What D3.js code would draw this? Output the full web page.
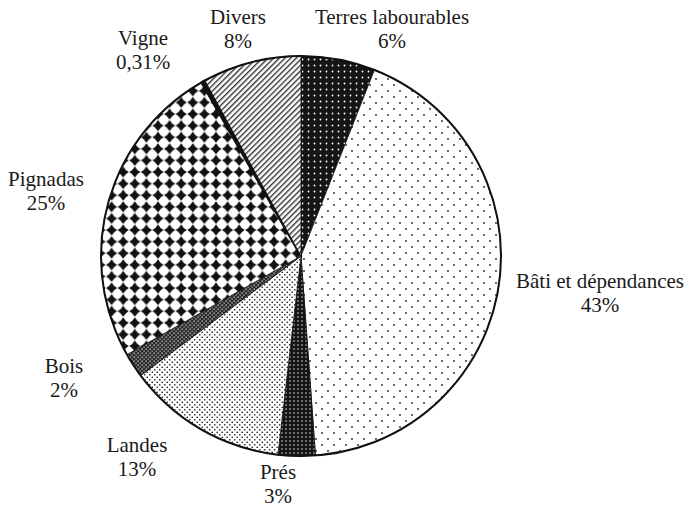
<!DOCTYPE html>
<html>
<head>
<meta charset="utf-8">
<script src="https://cdn.jsdelivr.net/npm/d3@7"></script>
<style>
  html, body { margin: 0; padding: 0; background: #fff; }
  svg { display: block; }
</style>
</head>
<body>
<div id="chart"></div>
<script>
// == DATA ==
const categories = ['Terres labourables', 'Bâti et dépendances', 'Prés', 'Landes', 'Bois', 'Pignadas', 'Vigne', 'Divers'];
const values = [6, 43, 3, 13, 2, 25, 0.31, 8];
const valueLabels = ['6%', '43%', '3%', '13%', '2%', '25%', '0,31%', '8%'];

// == LAYOUT ==
const W = 689, H = 508;
const CX = 301, CY = 256, R = 200;
const LINE = 24;
const FONT = 'Times New Roman, Liberation Serif, Times, serif';
// label anchor (centre x, first baseline y)
const labelPos = {
  'Terres labourables': [392, 24],
  'Bâti et dépendances': [600, 288],
  'Prés': [278, 479],
  'Landes': [137, 452],
  'Bois': [64, 373],
  'Pignadas': [46, 186],
  'Vigne': [143, 45],
  'Divers': [238, 24]
};

const svg = d3.select('#chart').append('svg')
  .attr('width', W)
  .attr('height', H);

const defs = svg.append('defs');

// dotted patterns: bg colour, dot colour, spacing, dot radius, staggered
function dotPattern(id, bg, fg, step, r, stagger) {
  const p = defs.append('pattern')
    .attr('id', id)
    .attr('patternUnits', 'userSpaceOnUse')
    .attr('width', step)
    .attr('height', step);
  p.append('rect').attr('width', step).attr('height', step).attr('fill', bg);
  p.append('circle').attr('cx', step / 4).attr('cy', step / 4).attr('r', r).attr('fill', fg);
  if (stagger) {
    p.append('circle').attr('cx', step * 3 / 4).attr('cy', step * 3 / 4).attr('r', r).attr('fill', fg);
  }
}

dotPattern('p-terres', '#151515', '#fff', 6, 0.9, false);
dotPattern('p-bati', '#fff', '#222', 12, 0.9, true);
dotPattern('p-pres', '#151515', '#fff', 4, 0.7, false);
dotPattern('p-landes', '#fff', '#222', 5, 0.85, true);

// Bois: fine dark check
const pb = defs.append('pattern').attr('id', 'p-bois')
  .attr('patternUnits', 'userSpaceOnUse').attr('width', 4).attr('height', 4);
pb.append('rect').attr('width', 4).attr('height', 4).attr('fill', '#2a2a2a');
pb.append('rect').attr('x', 0.5).attr('y', 0.5).attr('width', 1.2).attr('height', 1.2).attr('fill', '#fff');
pb.append('rect').attr('x', 2.5).attr('y', 2.5).attr('width', 1.2).attr('height', 1.2).attr('fill', '#ccc');

// Pignadas: black diamonds on white
const STEP_D = 11.6;
const pp = defs.append('pattern').attr('id', 'p-pign')
  .attr('patternUnits', 'userSpaceOnUse').attr('width', STEP_D).attr('height', STEP_D)
  .attr('x', 2).attr('y', 3);
pp.append('rect').attr('width', STEP_D).attr('height', STEP_D).attr('fill', '#fff');
const hD = STEP_D / 2, dr = 5.6, k = 1.9;
pp.append('path')
  .attr('d', `M${hD},${hD - dr} Q${hD + k},${hD - k} ${hD + dr},${hD} Q${hD + k},${hD + k} ${hD},${hD + dr} Q${hD - k},${hD + k} ${hD - dr},${hD} Q${hD - k},${hD - k} ${hD},${hD - dr}Z`)
  .attr('fill', '#111');

// Divers: diagonal hatching
const ph = defs.append('pattern').attr('id', 'p-divers')
  .attr('patternUnits', 'userSpaceOnUse').attr('width', 4).attr('height', 4)
  .attr('patternTransform', 'rotate(45)');
ph.append('rect').attr('width', 4).attr('height', 4).attr('fill', '#fff');
ph.append('rect').attr('x', 0).attr('width', 1.4).attr('height', 4).attr('fill', '#333');

const fills = {
  'Terres labourables': 'url(#p-terres)',
  'Bâti et dépendances': 'url(#p-bati)',
  'Prés': 'url(#p-pres)',
  'Landes': 'url(#p-landes)',
  'Bois': 'url(#p-bois)',
  'Pignadas': 'url(#p-pign)',
  'Vigne': '#111',
  'Divers': 'url(#p-divers)'
};

// == PIE ==
const pie = d3.pie().sort(null).value(d => d.value);
const arc = d3.arc().innerRadius(0).outerRadius(R);

const data = categories.map((c, i) => ({ name: c, value: values[i], label: valueLabels[i] }));

const g = svg.append('g').attr('transform', `translate(${CX},${CY})`);

g.selectAll('path.slice')
  .data(pie(data))
  .enter().append('path')
  .attr('class', 'slice')
  .attr('d', arc)
  .attr('fill', d => fills[d.data.name])
  .attr('stroke', '#111')
  .attr('stroke-width', d => d.data.name === 'Vigne' ? 2.5 : 0.8)
  .attr('stroke-linejoin', 'round');

g.append('circle')
  .attr('r', R)
  .attr('fill', 'none')
  .attr('stroke', '#111')
  .attr('stroke-width', 2);

// == LABELS ==
const labels = svg.append('g')
  .attr('text-anchor', 'middle')
  .style('font-family', FONT)
  .style('font-size', '21px')
  .style('fill', '#1a1a1a');

data.forEach(d => {
  const [x, y] = labelPos[d.name];
  labels.append('text').attr('x', x).attr('y', y).text(d.name);
  labels.append('text').attr('x', x).attr('y', y + LINE).text(d.label);
});
</script>
</body>
</html>
